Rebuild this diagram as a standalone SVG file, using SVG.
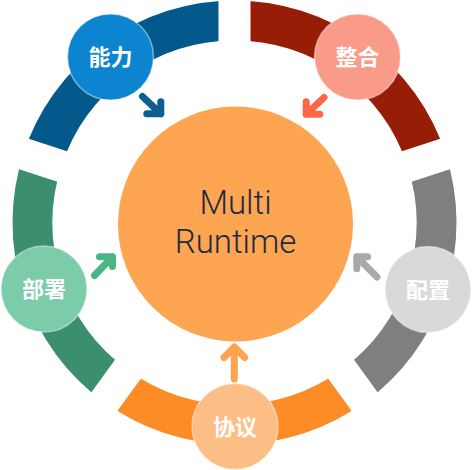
<svg xmlns="http://www.w3.org/2000/svg" width="472" height="470" viewBox="0 0 472 470">
  <style>
    .seg { fill: none; stroke-width: 40; }
    .bubble { stroke: #ffffff; stroke-opacity: 0.45; stroke-width: 1.5; }
    .blabel { font-family: "Noto Sans CJK SC", "Noto Sans", sans-serif; font-weight: 700; font-size: 22px; fill: #ffffff; text-anchor: middle; }
    .arrow { fill: none; stroke-width: 7; stroke-linecap: round; stroke-linejoin: round; }
    .main-label { font-family: Roboto, "Open Sans", "Liberation Sans", sans-serif; font-weight: 300; font-size: 33px; fill: #1c2b42; text-anchor: middle; }
  </style>
  <defs>
    <mask id="gaps" maskUnits="userSpaceOnUse" x="0" y="0" width="472" height="470">
      <rect x="0" y="0" width="472" height="470" fill="#ffffff"/>
      <g fill="#000000">
        <rect x="384.5" y="206.5" width="90" height="32" transform="rotate(-90 234.5 222.5)"/>
        <rect x="384.5" y="206.5" width="90" height="32" transform="rotate(-18 234.5 222.5)"/>
        <rect x="384.5" y="206.5" width="90" height="32" transform="rotate(54 234.5 222.5)"/>
        <rect x="384.5" y="206.5" width="90" height="32" transform="rotate(126 234.5 222.5)"/>
        <rect x="384.5" y="206.5" width="90" height="32" transform="rotate(198 234.5 222.5)"/>
      </g>
    </mask>
  </defs>

  <g id="ring" mask="url(#gaps)">
    <path class="seg" stroke="#03598b" d="M42.39,160.08 A202,202 0 0 1 234.5,20.5"/>
    <path class="seg" stroke="#971d06" d="M234.5,20.5 A202,202 0 0 1 426.61,160.08"/>
    <path class="seg" stroke="#7f7f7f" d="M426.61,160.08 A202,202 0 0 1 353.23,385.92"/>
    <path class="seg" stroke="#fd8c26" d="M353.23,385.92 A202,202 0 0 1 115.77,385.92"/>
    <path class="seg" stroke="#3c8f6c" d="M115.77,385.92 A202,202 0 0 1 42.39,160.08"/>
  </g>

  <g id="multi-runtime">
    <circle cx="235.5" cy="224" r="117.5" fill="#fda550"/>
    <text class="main-label" x="235.5" y="214">Multi</text>
    <text class="main-label" x="235.5" y="253">Runtime</text>
  </g>

  <g id="connectors">
    <path class="arrow" stroke="#0b5f92" d="M142.5,96.5 L160.8,113.8 M146.8,113.8 L160.8,113.8 L160.8,101.8"/>
    <path class="arrow" stroke="#fd6748" d="M324,97.5 L306.2,114.2 M319.8,114.2 L306.2,114.2 L306.2,101.8"/>
    <path class="arrow" stroke="#a9a9a9" d="M377,277 L356.8,256.8 M367.5,256.8 L356.8,256.8 L356.8,268.8"/>
    <path class="arrow" stroke="#fda24d" d="M234.3,379 L234.3,347 M224,357.5 L234.3,347 L244.7,357.5"/>
    <path class="arrow" stroke="#4bb584" d="M94.5,275.5 L112.5,256.8 M99.5,256.8 L112.5,256.8 L112.5,266.5"/>
  </g>

  <g id="nengli">
    <circle class="bubble" cx="110.5" cy="57" r="43" fill="#0c84cf"/>
    <text class="blabel" x="110.5" y="65">能力</text>
  </g>
  <g id="zhenghe">
    <circle class="bubble" cx="357.5" cy="57" r="43" fill="#fa9b89"/>
    <text class="blabel" x="357.5" y="65">整合</text>
  </g>
  <g id="peizhi">
    <circle class="bubble" cx="428" cy="289.5" r="43" fill="#d9d9d9"/>
    <text class="blabel" x="428" y="297.5">配置</text>
  </g>
  <g id="xieyi">
    <circle class="bubble" cx="235" cy="426.5" r="43" fill="#fdbe86"/>
    <text class="blabel" x="235" y="434.5">协议</text>
  </g>
  <g id="bushu">
    <circle class="bubble" cx="44" cy="289" r="43" fill="#7ccba9"/>
    <text class="blabel" x="44" y="297">部署</text>
  </g>
</svg>
